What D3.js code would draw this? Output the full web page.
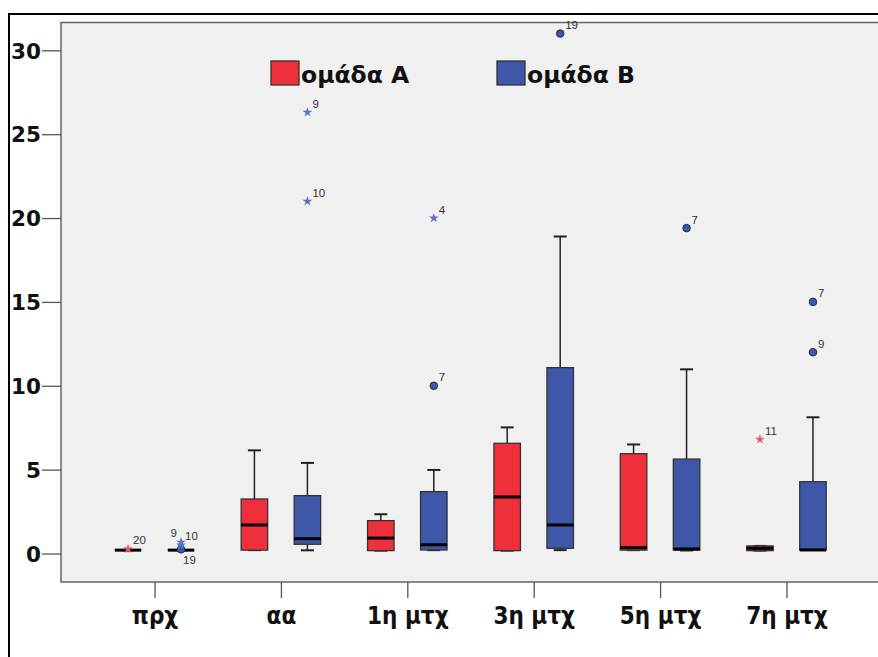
<!DOCTYPE html>
<html>
<head>
<meta charset="utf-8">
<script src="https://cdn.jsdelivr.net/npm/d3@7"></script>
<style>
  body { margin: 0; background: #fff; }
</style>
</head>
<body>
<div class="canvas"></div>
<script>
// categories and groups
const categories = ['πρχ', 'αα', '1η μτχ', '3η μτχ', '5η μτχ', '7η μτχ'];
const groups = ['ομάδα A', 'ομάδα B'];

// box summaries per category: [low whisker, q1, median, q3, high whisker]
const boxesA = [
  [0.2, 0.2, 0.2, 0.2, 0.2],
  [0.2, 0.2, 1.7, 3.25, 6.15],
  [0.17, 0.17, 0.92, 1.96, 2.34],
  [0.17, 0.17, 3.37, 6.57, 7.52],
  [0.2, 0.2, 0.35, 5.95, 6.5],
  [0.17, 0.17, 0.31, 0.45, 0.45]
];
const boxesB = [
  [0.2, 0.2, 0.2, 0.2, 0.2],
  [0.19, 0.55, 0.88, 3.45, 5.4],
  [0.2, 0.21, 0.52, 3.69, 4.98],
  [0.2, 0.31, 1.7, 11.08, 18.9],
  [0.18, 0.2, 0.27, 5.63, 10.98],
  [0.21, 0.21, 0.21, 4.28, 8.12]
];

// outliers: [category, value, case id, kind]
const outliersA = [
  ['πρχ', 0.27, '20', 'star'],
  ['7η μτχ', 6.81, '11', 'star']
];
const outliersB = [
  ['πρχ', 0.25, '19', 'circle'],
  ['πρχ', 0.5, '10', 'star'],
  ['πρχ', 0.67, '9', 'star'],
  ['αα', 26.3, '9', 'star'],
  ['αα', 21.0, '10', 'star'],
  ['1η μτχ', 20.0, '4', 'star'],
  ['1η μτχ', 10.0, '7', 'circle'],
  ['3η μτχ', 31.0, '19', 'circle'],
  ['5η μτχ', 19.4, '7', 'circle'],
  ['7η μτχ', 15.0, '7', 'circle'],
  ['7η μτχ', 12.0, '9', 'circle']
];

const yTicks = [0, 5, 10, 15, 20, 25, 30];

// graph setup
const dims = { width: 878, height: 657 };
const plot = { left: 61, top: 22.5, right: 880, bottom: 582 };

const colors = { 'ομάδα A': '#ef2f39', 'ομάδα B': '#3e57a8' };
const starColors = { 'ομάδα A': '#f25560', 'ομάδα B': '#5a72c6' };

const svg = d3.select('.canvas')
  .append('svg')
  .attr('width', dims.width)
  .attr('height', dims.height);

// outer frame (top + left)
svg.append('path')
  .attr('d', `M9,${dims.height} L9,14 L${dims.width},14`)
  .attr('fill', 'none')
  .attr('stroke', '#000')
  .attr('stroke-width', 2);

// plot background
svg.append('rect')
  .attr('x', plot.left)
  .attr('y', plot.top)
  .attr('width', plot.right - plot.left)
  .attr('height', plot.bottom - plot.top)
  .attr('fill', '#f0f0f0')
  .attr('stroke', '#666')
  .attr('stroke-width', 1.5);

// scales
const x = d3.scalePoint()
  .domain(categories)
  .range([plot.left, plot.right])
  .padding(0.74);

const xGroup = d3.scalePoint()
  .domain(groups)
  .range([-26.5, 26.5]);

const y = d3.scaleLinear()
  .domain([-1.7, 31.66])
  .range([plot.bottom, plot.top]);

const boxW = 26.5;
const capW = 13;

// y axis
const yAxis = svg.append('g')
  .attr('transform', `translate(${plot.left},0)`)
  .call(d3.axisLeft(y).tickValues(yTicks).tickSize(19).tickPadding(1).tickFormat(d3.format('d')));
yAxis.select('.domain').remove();
yAxis.selectAll('.tick line').attr('stroke', '#555').attr('stroke-width', 1.3);
yAxis.selectAll('.tick text')
  .attr('fill', '#111')
  .attr('dy', '0.36em')
  .style('font-family', 'DejaVu Sans')
  .style('font-weight', 'bold')
  .style('font-size', '21.5px');

// x axis
const xAxis = svg.append('g')
  .attr('transform', `translate(0,${plot.bottom})`)
  .call(d3.axisBottom(x).tickSize(16).tickPadding(9));
xAxis.select('.domain').remove();
xAxis.selectAll('.tick line').attr('stroke', '#555').attr('stroke-width', 1.3);
xAxis.selectAll('.tick text')
  .attr('fill', '#111')
  .attr('dy', '0.71em')
  .style('font-family', 'DejaVu Sans Condensed')
  .style('font-weight', 'bold')
  .style('font-size', '24px');

// boxes
const graph = svg.append('g');
const series = [
  { group: groups[0], boxes: boxesA, outliers: outliersA },
  { group: groups[1], boxes: boxesB, outliers: outliersB }
];

series.forEach(s => {
  const g = graph.selectAll(null)
    .data(s.boxes)
    .enter()
    .append('g')
    .attr('transform', (d, i) => `translate(${x(categories[i]) + xGroup(s.group)},0)`);

  // whiskers
  g.append('line')
    .attr('y1', d => y(d[3])).attr('y2', d => y(d[4]))
    .attr('stroke', '#222').attr('stroke-width', 1.5);
  g.append('line')
    .attr('y1', d => y(d[0])).attr('y2', d => y(d[1]))
    .attr('stroke', '#222').attr('stroke-width', 1.5);
  g.append('line')
    .attr('x1', -capW / 2).attr('x2', capW / 2)
    .attr('y1', d => y(d[4])).attr('y2', d => y(d[4]))
    .attr('stroke', '#222').attr('stroke-width', 2);
  g.append('line')
    .attr('x1', -capW / 2).attr('x2', capW / 2)
    .attr('y1', d => y(d[0])).attr('y2', d => y(d[0]))
    .attr('stroke', '#222').attr('stroke-width', 2);

  // box
  g.append('rect')
    .attr('x', -boxW / 2)
    .attr('width', boxW)
    .attr('y', d => y(d[3]))
    .attr('height', d => Math.max(0, y(d[1]) - y(d[3])))
    .attr('fill', colors[s.group])
    .attr('stroke', '#333')
    .attr('stroke-width', 1.3);

  // median
  g.append('line')
    .attr('x1', -boxW / 2).attr('x2', boxW / 2)
    .attr('y1', d => y(d[2])).attr('y2', d => y(d[2]))
    .attr('stroke', '#000').attr('stroke-width', 3);
});

// outliers
const star = d3.symbol().type(d3.symbolStar).size(30);
// label placement for crowded cases: [dx, dy, anchor]
const labelOffsets = {
  'ομάδα B|πρχ|9': [-4, -5, 'end'],
  'ομάδα B|πρχ|10': [4, -5, 'start'],
  'ομάδα B|πρχ|19': [2, 15, 'start']
};

series.forEach(s => {
  s.outliers.forEach(o => {
    const cx = x(o[0]) + xGroup(s.group);
    const cy = y(o[1]);
    if (o[3] === 'circle') {
      graph.append('circle')
        .attr('cx', cx).attr('cy', cy).attr('r', 3.8)
        .attr('fill', colors[s.group])
        .attr('stroke', '#1d2c5e').attr('stroke-width', 1);
    } else {
      graph.append('path')
        .attr('d', star)
        .attr('transform', `translate(${cx},${cy})`)
        .attr('fill', starColors[s.group]);
    }
    const off = labelOffsets[`${s.group}|${o[0]}|${o[2]}`] || [5, -4.5, 'start'];
    graph.append('text')
      .attr('x', cx + off[0])
      .attr('y', cy + off[1])
      .attr('text-anchor', off[2])
      .attr('fill', '#333')
      .style('font-family', 'Liberation Sans')
      .style('font-size', '11.5px')
      .text(o[2]);
  });
});

// legend
const legendX = [271, 497];
const legend = svg.selectAll('.legend')
  .data(groups)
  .enter()
  .append('g')
  .attr('class', 'legend')
  .attr('transform', (d, i) => `translate(${legendX[i]},61)`);

legend.append('rect')
  .attr('width', 28)
  .attr('height', 24)
  .attr('fill', d => colors[d])
  .attr('stroke', '#333')
  .attr('stroke-width', 1.3);

legend.append('text')
  .attr('x', 30)
  .attr('y', 21.5)
  .attr('fill', '#111')
  .style('font-family', 'DejaVu Sans')
  .style('font-weight', 'bold')
  .style('font-size', '23.5px')
  .text(d => d);
</script>
</body>
</html>
